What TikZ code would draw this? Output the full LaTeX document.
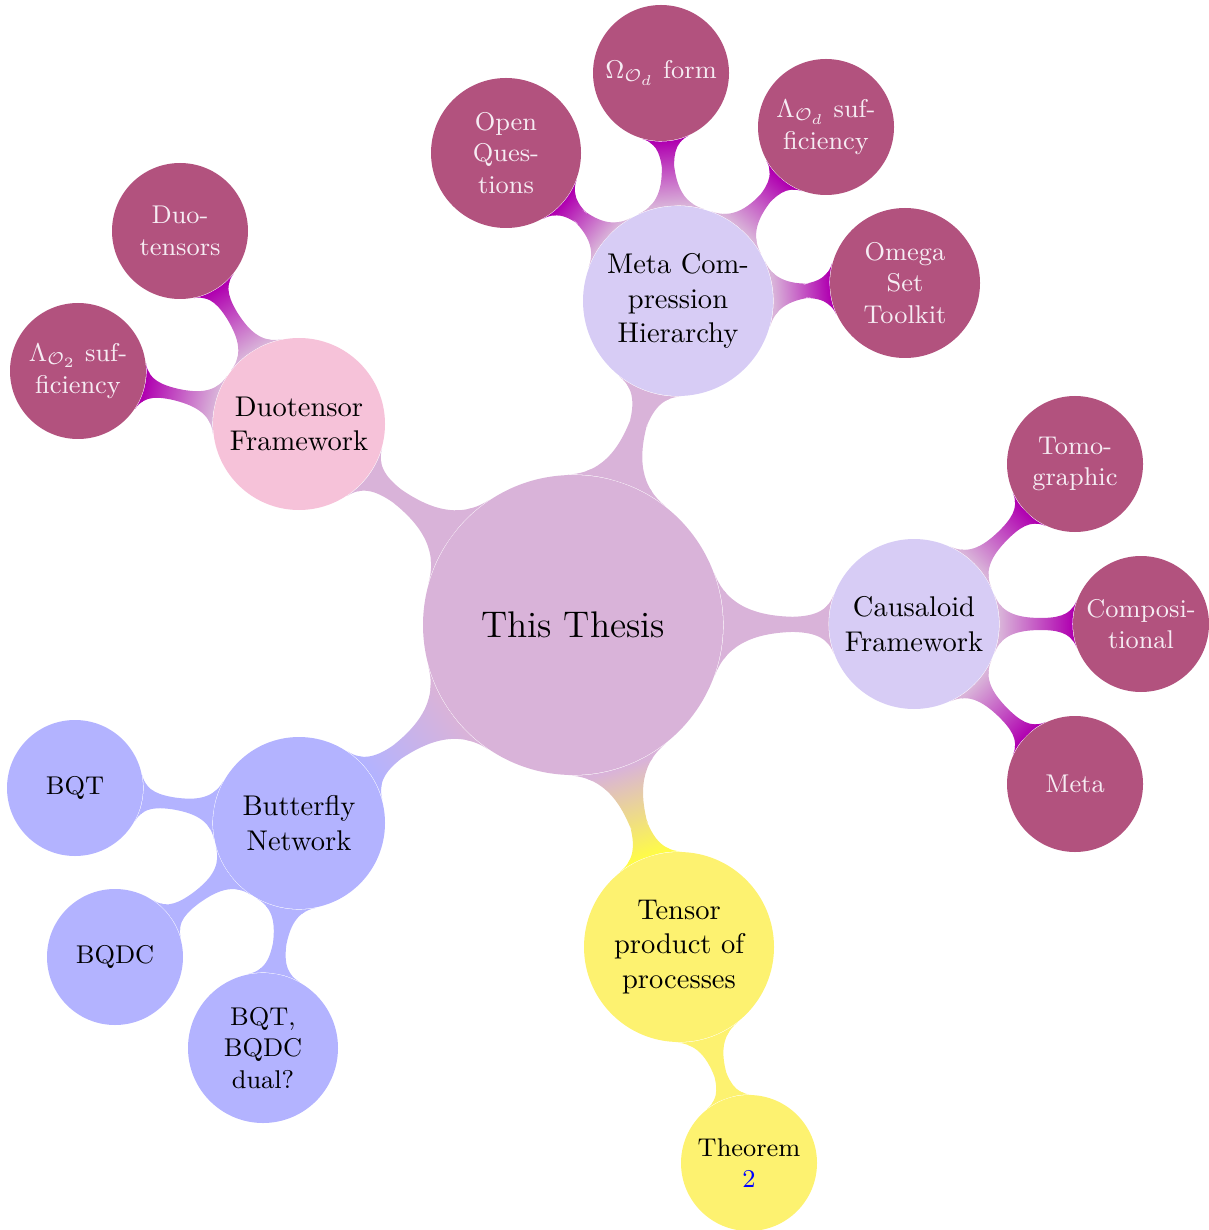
\documentclass[tikz,border=0pt]{standalone}
\usetikzlibrary{mindmap}
\pgfdeclarelayer{background}
\pgfsetlayers{background,main}

\definecolor{rootfill}{RGB}{217,179,217}
\definecolor{lavfill}{RGB}{215,204,245}
\definecolor{pinkfill}{RGB}{246,194,217}
\definecolor{bluefill}{RGB}{179,179,255}
\definecolor{yellowfill}{RGB}{253,242,112}
\definecolor{yellowbar}{RGB}{255,252,70}
\definecolor{leaffill}{RGB}{178,82,126}
\definecolor{leafbar}{RGB}{176,0,176}
\definecolor{leaftext}{RGB}{246,236,243}

% one drawing unit
\newcommand{\pxu}{0.01233cm}

\begin{document}
\begin{tikzpicture}[x=\pxu, y=-\pxu,
  bubble/.style={circle, inner sep=0pt, align=center, text=black},
  rootbubble/.style={bubble, fill=rootfill, minimum size={300*\pxu},
    font=\fontsize{13}{16}\selectfont},
  midbubble/.style 2 args={bubble, fill=#1, minimum size={#2*\pxu}},
  subbubble/.style 2 args={bubble, fill=#1, font=\small, minimum size={#2*\pxu}},
  leafbubble/.style={bubble, fill=leaffill, text=leaftext, font=\small,
    minimum size={#1*\pxu}},
  leafbubble/.default=136
]
\useasboundingbox (0,0) rectangle (1209,1230);

% centre
\node[rootbubble] (root) at (573,625) {This Thesis};

% first ring
\node[midbubble={lavfill}{190}] (meta) at (678,301) {Meta Com-\\pression\\Hierarchy};
\node[midbubble={lavfill}{170}] (caus) at (914,624) {Causaloid\\Framework};
\node[midbubble={yellowfill}{190}] (tens) at (679,947) {Tensor\\product of\\processes};
\node[midbubble={bluefill}{172}] (butt) at (299,823) {Butterfly\\Network};
\node[midbubble={pinkfill}{172}] (duo) at (299,424) {Duotensor\\Framework};

% around the compression hierarchy
\node[leafbubble=150] (open) at (506,153) {Open\\Ques-\\tions};
\node[leafbubble] (omform) at (661,73) {$\Omega_{\mathcal{O}_d}$ form};
\node[leafbubble] (lamd) at (826,127) {$\Lambda_{\mathcal{O}_d}$ suf-\\ficiency};
\node[leafbubble=150] (omset) at (905,283) {Omega\\Set\\Toolkit};

% around the causaloid framework
\node[leafbubble] (tomo) at (1075,464) {Tomo-\\graphic};
\node[leafbubble] (comp) at (1141,624) {Composi-\\tional};
\node[leafbubble] (cmeta) at (1075,784) {Meta};

% around the duotensor framework
\node[leafbubble] (duot) at (180,231) {Duo-\\tensors};
\node[leafbubble] (lamtwo) at (78,371) {$\Lambda_{\mathcal{O}_2}$ suf-\\ficiency};

% around the butterfly network
\node[subbubble={bluefill}{136}] (bqt) at (75,788) {BQT};
\node[subbubble={bluefill}{136}] (bqdc) at (115,957) {BQDC};
\node[subbubble={bluefill}{150}] (dual) at (263,1048) {BQT,\\BQDC\\dual?};

% below the tensor product
\node[subbubble={yellowfill}{136}] (thm) at (749,1163) {Theorem\\\textcolor{blue}{2}};

% connection bars
\begin{pgfonlayer}{background}
\path (root) to[circle connection bar switch color=from (rootfill) to (rootfill)] (meta);
\path (root) to[circle connection bar switch color=from (rootfill) to (rootfill)] (caus);
\path (root) to[circle connection bar switch color=from (rootfill) to (yellowbar)] (tens);
\path (root) to[circle connection bar switch color=from (rootfill) to (bluefill)] (butt);
\path (root) to[circle connection bar switch color=from (rootfill) to (rootfill)] (duo);

\path (meta) to[circle connection bar switch color=from (rootfill) to (leafbar)] (open);
\path (meta) to[circle connection bar switch color=from (rootfill) to (leafbar)] (omform);
\path (meta) to[circle connection bar switch color=from (rootfill) to (leafbar)] (lamd);
\path (meta) to[circle connection bar switch color=from (rootfill) to (leafbar)] (omset);

\path (caus) to[circle connection bar switch color=from (rootfill) to (leafbar)] (tomo);
\path (caus) to[circle connection bar switch color=from (rootfill) to (leafbar)] (comp);
\path (caus) to[circle connection bar switch color=from (rootfill) to (leafbar)] (cmeta);

\path (duo) to[circle connection bar switch color=from (rootfill) to (leafbar)] (duot);
\path (duo) to[circle connection bar switch color=from (rootfill) to (leafbar)] (lamtwo);

\path (butt) to[circle connection bar switch color=from (bluefill) to (bluefill)] (bqt);
\path (butt) to[circle connection bar switch color=from (bluefill) to (bluefill)] (bqdc);
\path (butt) to[circle connection bar switch color=from (bluefill) to (bluefill)] (dual);

\path (tens) to[circle connection bar switch color=from (yellowfill) to (yellowfill)] (thm);
\end{pgfonlayer}
\end{tikzpicture}
\end{document}
